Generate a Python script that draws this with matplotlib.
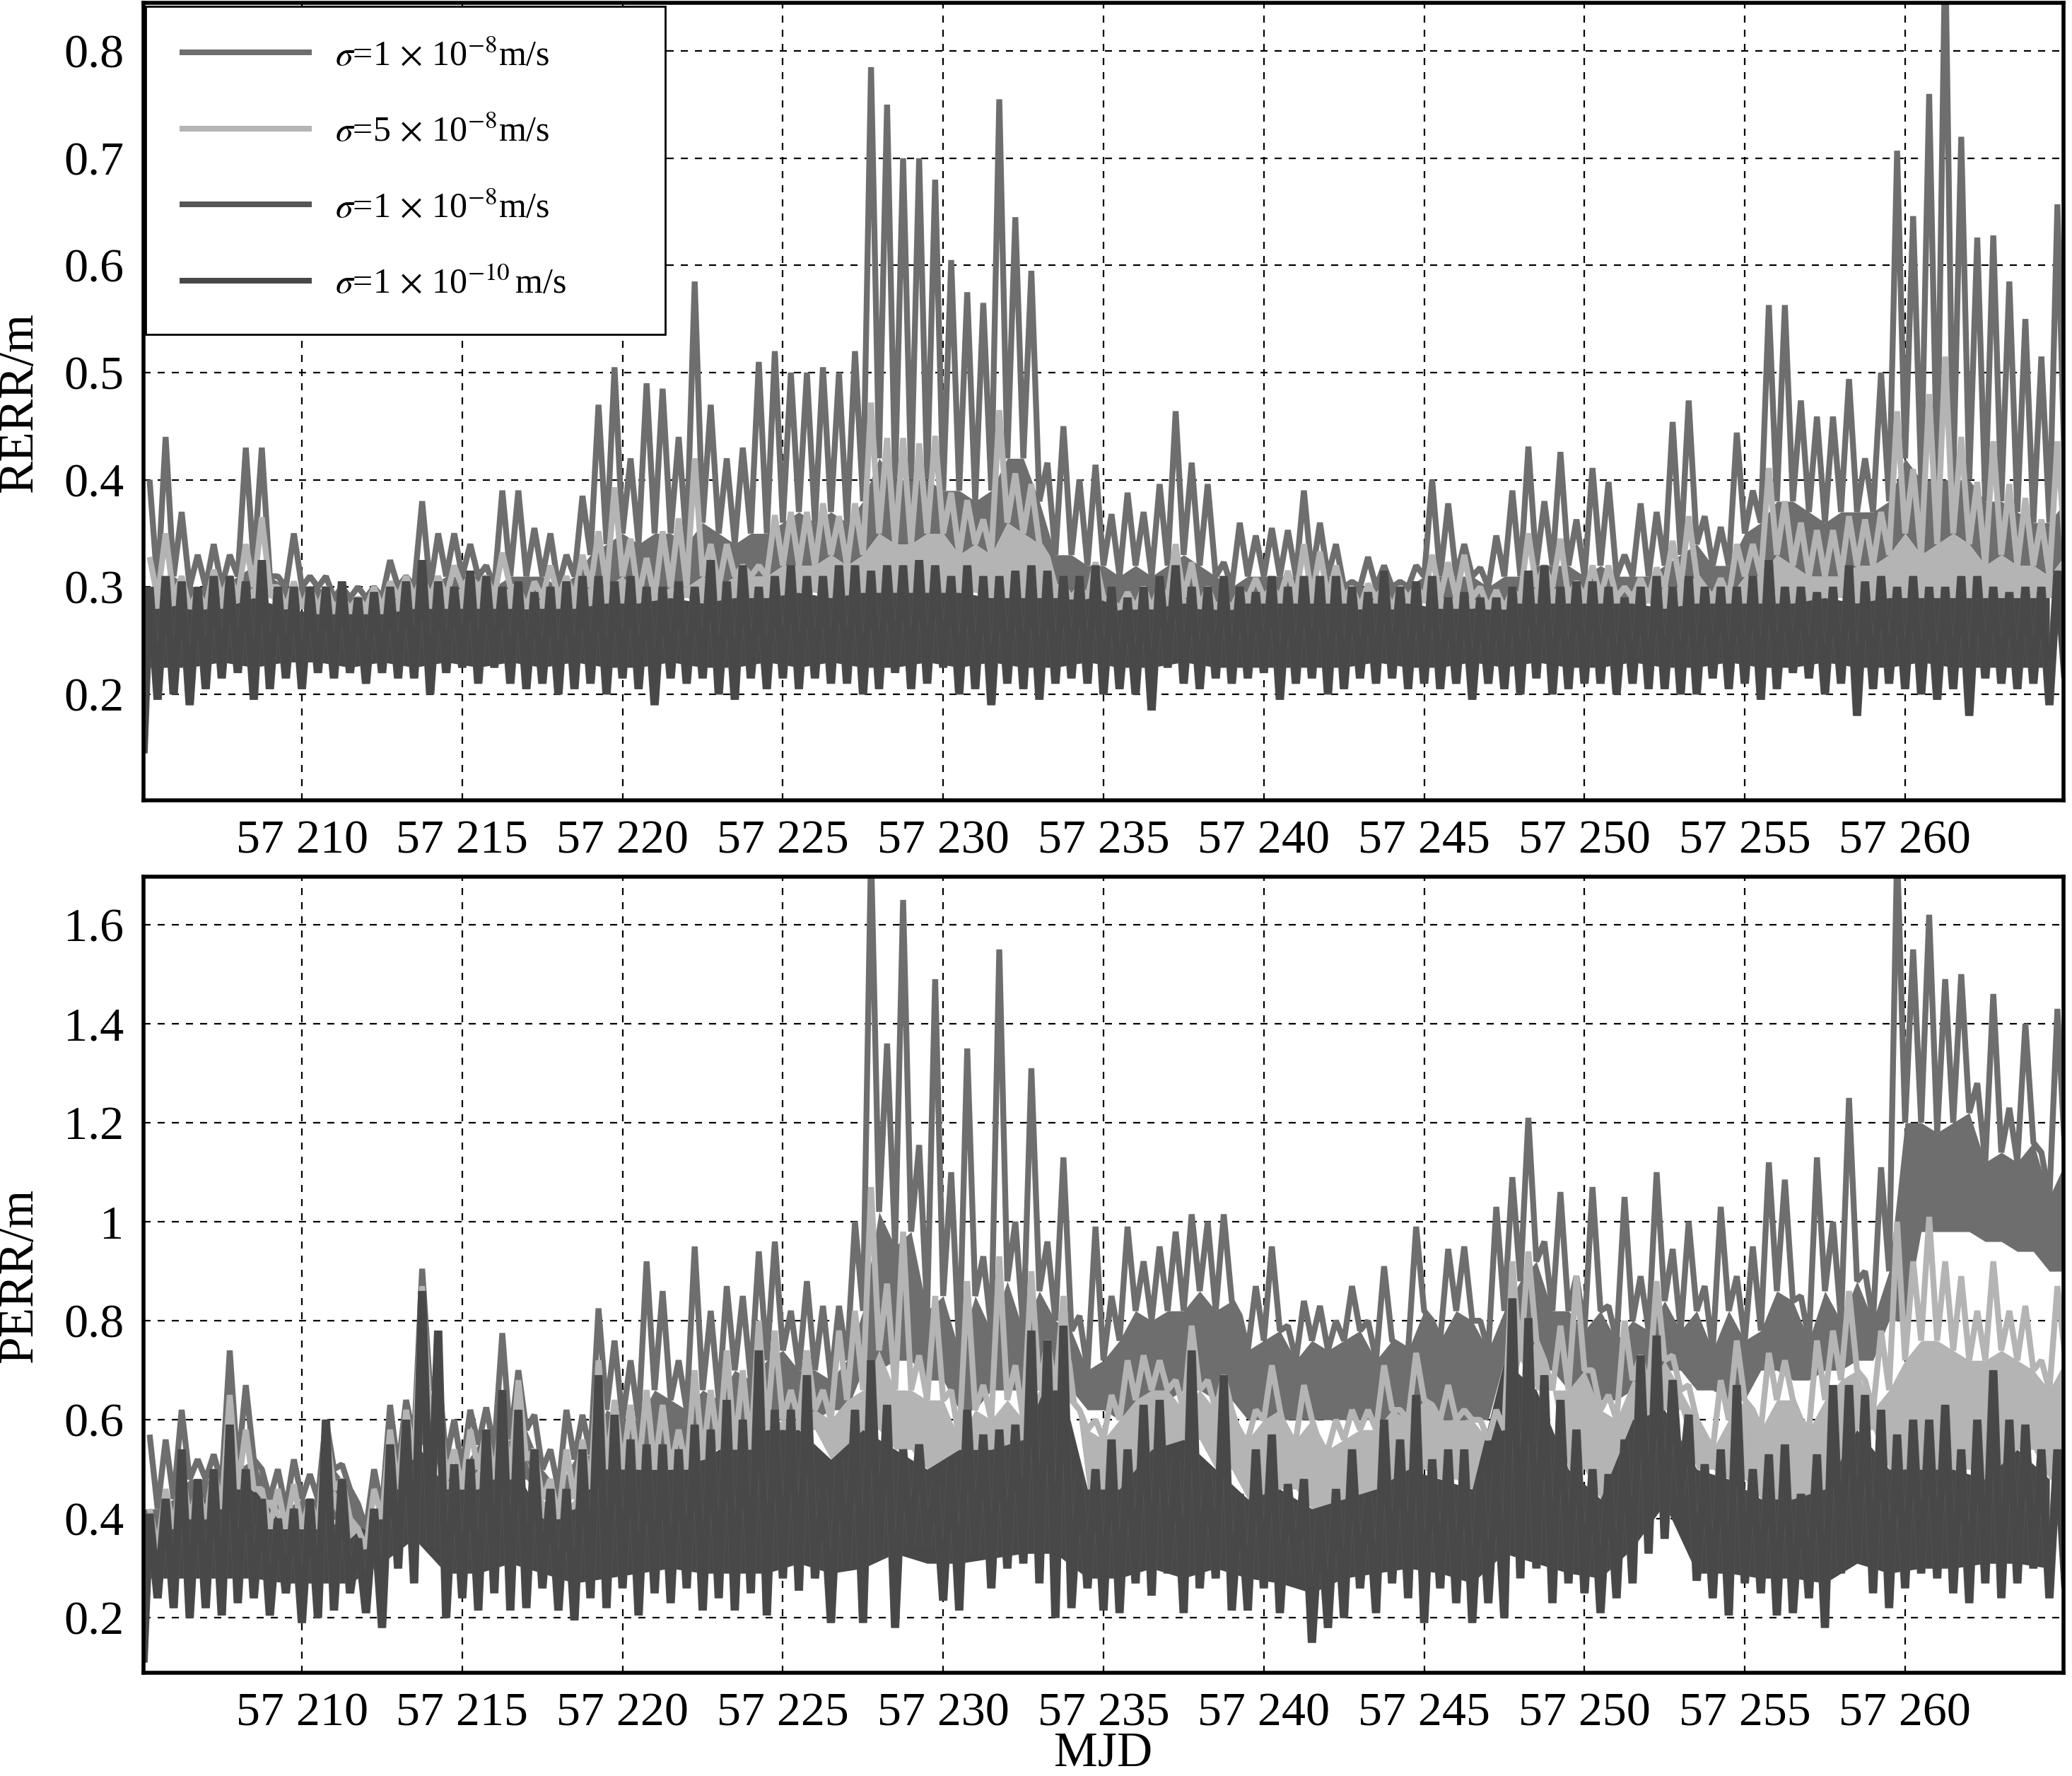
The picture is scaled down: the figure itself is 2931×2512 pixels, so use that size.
"""
RERR and PERR against MJD for four process noise settings.

Values are read off the picture: one upper spike and one valley for each half day.
"""
import numpy as np
from matplotlib import pyplot as plt

labels = [
    r"$\sigma$=1$\,\times\,$10$^{-8}$m/s",
    r"$\sigma$=5$\,\times\,$10$^{-8}$m/s",
    r"$\sigma$=1$\,\times\,$10$^{-8}$m/s",
    r"$\sigma$=1$\,\times\,$10$^{-10}\,$m/s",
]
colors = ["#6e6e6e", "#b4b4b4", "#565656", "#484848"]

mjd_ticks = [57210, 57215, 57220, 57225, 57230, 57235, 57240, 57245, 57250, 57255, 57260]
mjd_labels = ["57 210", "57 215", "57 220", "57 225", "57 230", "57 235",
              "57 240", "57 245", "57 250", "57 255", "57 260"]
rerr_ticks = [0.2, 0.3, 0.4, 0.5, 0.6, 0.7, 0.8]
rerr_labels = ["0.2", "0.3", "0.4", "0.5", "0.6", "0.7", "0.8"]
perr_ticks = [0.2, 0.4, 0.6, 0.8, 1.0, 1.2, 1.4, 1.6]
perr_labels = ["0.2", "0.4", "0.6", "0.8", "1", "1.2", "1.4", "1.6"]

# RERR, ten values a row = five days, from 57205
rerr_gray_peak = [
    .40, .44, .37, .33, .34, .33, .43, .43, .31, .35,
    .31, .31, .30, .30, .30, .325, .31, .38, .35, .35,
    .34, .32, .39, .39, .355, .35, .33, .385, .47, .505,
    .42, .49, .485, .44, .585, .47, .42, .43, .51, .52,
    .50, .50, .505, .50, .52, .785, .75, .70, .70, .68,
    .605, .575, .565, .755, .645, .595, .416, .45, .40, .414,
    .368, .388, .37, .396, .464, .416, .396, .323, .36, .348,
    .355, .353, .39, .36, .34, .305, .328, .32, .305, .32,
    .40, .378, .34, .318, .348, .39, .431, .38, .426, .363,
    .411, .398, .33, .378, .37, .454, .474, .366, .356, .444,
    .39, .563, .563, .474, .459, .459, .494, .42, .50, .707,
    .646, .76, .90, .72, .626, .628, .585, .55, .515, .657,
]
rerr_gray_valley = [
    .30, .31, .30, .30, .30, .31, .32, .31, .30, .30,
    .30, .29, .29, .29, .29, .30, .30, .30, .31, .31,
    .31, .30, .31, .31, .31, .30, .31, .33, .34, .35,
    .34, .35, .35, .34, .36, .35, .34, .35, .35, .36,
    .37, .36, .37, .36, .38, .42, .40, .40, .40, .39,
    .39, .38, .39, .42, .42, .38, .33, .33, .32, .32,
    .31, .32, .31, .32, .33, .32, .31, .30, .31, .31,
    .31, .31, .31, .31, .30, .30, .30, .30, .30, .31,
    .31, .31, .31, .30, .31, .31, .32, .32, .32, .31,
    .32, .31, .31, .31, .32, .33, .34, .32, .32, .35,
    .36, .38, .38, .37, .36, .37, .37, .37, .38, .42,
    .40, .40, .40, .40, .38, .38, .37, .36, .36, .38,
]
rerr_light_peak = [
    .328, .35, .31, .296, .316, .31, .34, .365, .30, .305,
    .30, .30, .29, .29, .30, .305, .31, .31, .31, .32,
    .31, .31, .332, .30, .305, .32, .31, .33, .352, .393,
    .345, .327, .352, .364, .42, .34, .34, .32, .32, .367,
    .37, .37, .378, .366, .378, .472, .439, .439, .434, .441,
    .388, .381, .363, .465, .406, .396, .328, .30, .30, .323,
    .287, .295, .30, .30, .34, .323, .30, .29, .297, .308,
    .30, .315, .34, .333, .32, .30, .303, .30, .30, .30,
    .33, .323, .33, .30, .297, .297, .35, .32, .345, .305,
    .32, .32, .30, .308, .318, .343, .366, .30, .308, .34,
    .34, .411, .38, .36, .353, .353, .366, .363, .37, .464,
    .41, .48, .515, .44, .398, .436, .396, .383, .363, .436,
]
rerr_light_valley = [
    .29, .29, .28, .28, .29, .29, .30, .30, .28, .28,
    .28, .28, .28, .28, .28, .29, .29, .29, .29, .30,
    .30, .29, .30, .28, .29, .29, .29, .30, .30, .31,
    .29, .29, .30, .30, .31, .30, .31, .31, .31, .32,
    .32, .32, .33, .32, .33, .35, .34, .34, .35, .35,
    .33, .34, .33, .36, .35, .34, .30, .29, .29, .29,
    .28, .28, .28, .29, .29, .28, .28, .28, .29, .29,
    .29, .29, .29, .29, .29, .28, .29, .28, .29, .29,
    .29, .29, .29, .28, .28, .29, .30, .30, .29, .29,
    .29, .29, .29, .29, .30, .30, .31, .29, .29, .31,
    .31, .33, .32, .31, .31, .31, .32, .32, .33, .35,
    .33, .34, .35, .34, .32, .33, .32, .32, .31, .33,
]
rerr_dark_up = [
    .30, .31, .305, .30, .31, .31, .305, .325, .30, .30,
    .30, .30, .305, .29, .295, .30, .305, .325, .305, .30,
    .315, .31, .30, .305, .295, .30, .305, .31, .31, .305,
    .31, .30, .30, .305, .30, .325, .305, .32, .30, .31,
    .32, .31, .31, .32, .32, .315, .32, .32, .325, .32,
    .31, .32, .31, .31, .315, .32, .315, .31, .31, .32,
    .30, .29, .30, .31, .32, .30, .30, .31, .30, .295,
    .31, .30, .31, .31, .31, .30, .295, .315, .30, .305,
    .31, .29, .295, .29, .29, .30, .315, .32, .30, .305,
    .305, .30, .29, .30, .31, .30, .31, .30, .30, .30,
    .31, .325, .30, .30, .295, .30, .32, .305, .31, .30,
    .31, .30, .30, .31, .31, .30, .295, .30, .30, .315,
]
rerr_dark_down = [
    .195, .20, .19, .205, .215, .22, .195, .205, .215, .205,
    .22, .215, .22, .21, .22, .215, .215, .20, .22, .225,
    .21, .225, .21, .205, .21, .20, .205, .21, .20, .215,
    .205, .19, .215, .21, .215, .20, .195, .215, .205, .215,
    .205, .215, .21, .21, .20, .205, .22, .205, .21, .225,
    .20, .205, .19, .21, .205, .195, .21, .215, .21, .20,
    .205, .20, .185, .225, .21, .205, .215, .21, .215, .22,
    .195, .21, .215, .20, .205, .215, .21, .215, .205, .21,
    .205, .21, .195, .21, .205, .20, .215, .20, .205, .21,
    .21, .20, .21, .205, .205, .20, .20, .215, .205, .21,
    .195, .205, .22, .215, .20, .21, .18, .205, .21, .205,
    .20, .195, .205, .18, .215, .21, .205, .21, .19, .215,
]
# solid part of the dark band, one value a day
rerr_core_top = [
    .28, .285, .28, .29, .28, .275, .275, .275, .28, .28,
    .28, .28, .28, .28, .285, .285, .29, .285, .29, .29,
    .295, .29, .295, .295, .295, .295, .29, .29, .29, .29,
    .285, .28, .285, .285, .285, .285, .285, .285, .285, .285,
    .28, .28, .285, .285, .285, .285, .285, .28, .285, .285,
    .285, .285, .29, .285, .29, .29, .29, .29, .29, .29,
]
rerr_core_bot = [
    .225, .225, .23, .225, .23, .23, .225, .23, .225, .23,
    .225, .23, .225, .23, .225, .225, .23, .225, .225, .23,
    .225, .23, .225, .225, .23, .225, .23, .225, .225, .23,
    .225, .225, .23, .225, .225, .225, .225, .225, .23, .225,
    .225, .23, .225, .23, .225, .225, .23, .225, .225, .23,
    .225, .225, .23, .225, .225, .23, .225, .225, .225, .225,
]

# PERR
perr_gray_peak = [
    .57, .56, .62, .52, .53, .74, .67, .50, .50, .52,
    .49, .60, .51, .43, .50, .63, .64, .905, .70, .60,
    .62, .625, .775, .70, .61, .54, .62, .61, .825, .76,
    .72, .92, .86, .72, .95, .82, .87, .85, .94, .96,
    .82, .88, .83, .83, 1.0, 1.75, 1.36, 1.65, 1.155, 1.49,
    1.1, 1.35, .93, 1.55, 1.0, 1.31, .96, 1.13, .81, .99,
    .85, .99, .92, .95, .98, 1.015, 1.0, 1.015, .81, .87,
    .95, .79, .84, .83, .80, .87, .80, .91, .75, .99,
    .80, .945, .95, .80, 1.03, 1.09, 1.21, .96, 1.06, .89,
    1.07, .83, 1.05, .89, 1.10, .945, 1.0, .87, 1.03, .89,
    .95, 1.12, 1.085, .85, 1.13, 1.0, 1.25, .90, 1.11, 1.75,
    1.55, 1.62, 1.49, 1.5, 1.28, 1.46, 1.23, 1.4, 1.14, 1.43,
]
perr_gray_valley = [
    .42, .44, .48, .48, .47, .50, .52, .44, .42, .44,
    .44, .50, .46, .38, .42, .50, .56, .66, .52, .50,
    .55, .54, .56, .58, .50, .46, .52, .53, .62, .60,
    .60, .66, .64, .62, .66, .64, .70, .68, .72, .74,
    .70, .70, .68, .72, .82, 1.02, .95, .98, .82, .85,
    .74, .85, .78, .88, .78, .86, .80, .78, .70, .72,
    .76, .82, .80, .82, .82, .86, .82, .84, .74, .76,
    .78, .72, .76, .74, .76, .78, .72, .76, .74, .82,
    .76, .82, .80, .74, .82, .88, .92, .82, .82, .78,
    .82, .76, .80, .78, .84, .78, .82, .74, .82, .76,
    .78, .86, .84, .76, .86, .80, .88, .80, .90, 1.20,
    1.20, 1.18, 1.20, 1.22, 1.12, 1.14, 1.12, 1.16, 1.05, 1.12,
]
# lower edge of the gray band, one value a day
perr_gray_floor = [
    .36, .42, .44, .44, .40, .40, .36, .38, .55, .46,
    .50, .48, .44, .46, .52, .52, .54, .56, .60, .62,
    .60, .62, .70, .72, .68, .62, .66, .66, .66, .62,
    .60, .64, .66, .64, .60, .60, .60, .60, .60, .60,
    .60, .60, .72, .70, .66, .64, .66, .70, .66, .64,
    .70, .68, .70, .72, .80, .98, .98, .96, .94, .90,
]
perr_light_peak = [
    .42, .46, .50, .46, .50, .65, .58, .46, .46, .47,
    .44, .58, .48, .38, .46, .58, .62, .87, .66, .54,
    .58, .58, .62, .68, .54, .48, .54, .56, .72, .64,
    .63, .66, .63, .58, .70, .66, .74, .70, .80, .78,
    .66, .74, .66, .78, .82, 1.07, .875, .98, .73, .85,
    .66, .88, .67, .93, .71, .90, .76, .85, .62, .60,
    .65, .72, .73, .72, .68, .79, .68, .69, .57, .62,
    .71, .55, .67, .55, .60, .62, .62, .71, .62, .735,
    .63, .67, .62, .60, .62, .92, .94, .72, .79, .89,
    .70, .65, .80, .73, .88, .73, .67, .57, .68, .76,
    .62, .735, .72, .60, .76, .78, .86, .68, .78, 1.0,
    .92, 1.01, .92, .89, .82, .92, .82, .83, .72, .87,
]
perr_light_valley = [
    .34, .38, .40, .40, .42, .46, .46, .38, .38, .38,
    .38, .46, .40, .34, .40, .46, .52, .60, .48, .46,
    .50, .48, .48, .52, .44, .40, .44, .46, .50, .50,
    .50, .50, .50, .50, .52, .54, .54, .54, .58, .60,
    .60, .62, .60, .64, .66, .74, .66, .66, .64, .64,
    .56, .62, .60, .64, .60, .66, .66, .64, .58, .56,
    .60, .64, .66, .66, .62, .66, .62, .62, .56, .60,
    .62, .56, .60, .54, .56, .58, .58, .62, .60, .64,
    .60, .60, .60, .56, .58, .72, .76, .66, .66, .70,
    .62, .60, .68, .66, .72, .66, .60, .54, .60, .64,
    .58, .64, .64, .58, .64, .68, .70, .62, .66, .72,
    .76, .76, .74, .72, .72, .74, .72, .70, .66, .72,
]
perr_dark_up = [
    .41, .44, .54, .48, .50, .59, .50, .44, .40, .42,
    .44, .60, .48, .36, .42, .55, .60, .86, .78, .51,
    .52, .58, .66, .62, .54, .46, .46, .54, .69, .61,
    .56, .55, .55, .54, .59, .58, .64, .60, .74, .62,
    .62, .69, .46, .52, .62, .72, .63, .54, .55, .47,
    .52, .62, .57, .58, .59, .78, .76, .79, .49, .50,
    .56, .54, .63, .64, .52, .74, .50, .69, .45, .54,
    .57, .47, .48, .41, .46, .54, .45, .60, .56, .65,
    .52, .54, .54, .49, .50, .845, .805, .69, .64, .58,
    .50, .49, .56, .73, .77, .68, .61, .51, .54, .67,
    .50, .53, .55, .45, .53, .67, .67, .65, .62, .57,
    .60, .60, .63, .54, .60, .70, .60, .59, .54, .54,
]
perr_dark_down = [
    .24, .22, .20, .22, .205, .23, .24, .205, .25, .19,
    .20, .215, .25, .21, .18, .30, .27, .345, .20, .24,
    .215, .25, .215, .22, .26, .215, .195, .24, .22, .26,
    .205, .25, .23, .26, .215, .24, .215, .25, .205, .28,
    .255, .28, .19, .30, .19, .32, .18, .345, .345, .235,
    .215, .33, .26, .30, .31, .27, .20, .22, .26, .215,
    .21, .27, .245, .29, .21, .26, .28, .215, .215, .26,
    .21, .29, .15, .18, .20, .26, .21, .27, .24, .19,
    .26, .23, .19, .23, .20, .28, .30, .23, .27, .25,
    .21, .24, .27, .33, .36, .45, .275, .24, .205, .27,
    .25, .205, .21, .24, .18, .29, .31, .25, .22, .26,
    .29, .28, .25, .23, .27, .24, .27, .30, .24, .26,
]
perr_core_top = [
    .38, .42, .46, .46, .38, .42, .36, .42, .56, .46,
    .46, .52, .40, .42, .52, .50, .50, .52, .56, .58,
    .58, .52, .58, .54, .50, .54, .54, .56, .72, .46,
    .46, .54, .56, .50, .44, .46, .42, .44, .46, .50,
    .48, .46, .72, .66, .50, .44, .60, .62, .50, .48,
    .44, .44, .46, .58, .50, .50, .50, .48, .54, .48,
]
perr_core_bot = [
    .28, .28, .28, .28, .27, .27, .27, .31, .36, .29,
    .29, .31, .29, .27, .28, .29, .30, .29, .29, .29,
    .31, .29, .30, .33, .31, .31, .32, .33, .33, .28,
    .28, .30, .28, .30, .28, .27, .25, .28, .29, .30,
    .29, .27, .33, .31, .29, .28, .34, .43, .29, .29,
    .28, .28, .27, .31, .29, .30, .30, .31, .31, .30,
]
# first sample at the left edge of each panel
rerr_start = 0.145
perr_start = 0.11

MJD_LEFT = 57205.06
MJD_START = 57205.25
LINE_LW = 6.0
DARK_LW = 7.5


def zigzag(first, second):
    # one half day: first value on the quarter, second a quarter day later
    x = MJD_START + 0.25 * np.arange(2 * len(first))
    y = np.column_stack([first, second]).ravel()
    return x, y


def body(ax, x, low, high, color):
    # extend to the left edge so the band has no gap at the axis
    x = np.concatenate([[57205.0], x])
    low = np.concatenate([[low[0]], low])
    high = np.concatenate([[high[0]], high])
    ax.fill_between(x, low, high, color=color, lw=0)


def draw_panel(ax, gray, light, dark, core, gray_floor, start):
    valley_x = MJD_START + 0.25 + 0.5 * np.arange(len(gray[0]))
    core_x = np.arange(len(core[0])) + 57205.5
    core_top = np.repeat(core[0], 2)
    line_style = {"solid_joinstyle": "bevel", "solid_capstyle": "butt"}

    body(ax, valley_x, gray_floor, gray[1], colors[0])
    ax.plot(*zigzag(*gray), color=colors[0], lw=LINE_LW, label=labels[0], **line_style)

    body(ax, valley_x, core_top, light[1], colors[1])
    ax.plot(*zigzag(*light), color=colors[1], lw=LINE_LW, label=labels[1], **line_style)

    x, y = zigzag(*dark)
    x = np.concatenate([[MJD_LEFT], x])
    y = np.concatenate([[start], y])
    # third series nearly coincides with the last one, only its rim shows
    ax.plot(x, y, color=colors[2], lw=DARK_LW + 1, label=labels[2], **line_style)
    body(ax, core_x, core[1], core[0], colors[3])
    ax.plot(x, y, color=colors[3], lw=DARK_LW, label=labels[3], **line_style)


def style_axes(ax, yticks, ylabels, ylim, ylabel):
    ax.set_xlim(MJD_LEFT, 57264.94)
    ax.set_ylim(*ylim)
    ax.set_xticks(mjd_ticks, mjd_labels)
    ax.set_yticks(yticks, ylabels)
    ax.tick_params(length=0, labelsize=49, pad=20)
    ax.set_axisbelow(True)
    ax.grid(True, color="black", lw=1.6, linestyle=(0, (4.5, 4.5)))
    for spine in ax.spines.values():
        spine.set_linewidth(4)
    ax.set_ylabel(ylabel, fontsize=50)
    ax.yaxis.set_label_coords(-0.0525, 0.5)


def main():
    plt.rcParams["font.family"] = ["Liberation Serif", "DejaVu Serif"]
    plt.rcParams["mathtext.fontset"] = "stix"

    W, H = 2931, 2512
    fig = plt.figure(figsize=(W / 100, H / 100), dpi=100)
    ax1 = fig.add_axes([203 / W, 1 - 1132 / H, 2716 / W, 1128 / H])
    ax2 = fig.add_axes([203 / W, 1 - 2366 / H, 2716 / W, 1126 / H])

    draw_panel(
        ax1,
        (rerr_gray_peak, rerr_gray_valley),
        (rerr_light_peak, rerr_light_valley),
        (rerr_dark_up, rerr_dark_down),
        (rerr_core_top, rerr_core_bot),
        np.array(rerr_light_valley),
        rerr_start,
    )
    draw_panel(
        ax2,
        (perr_gray_peak, perr_gray_valley),
        (perr_light_peak, perr_light_valley),
        (perr_dark_up, perr_dark_down),
        (perr_core_top, perr_core_bot),
        np.repeat(perr_gray_floor, 2),
        perr_start,
    )
    style_axes(ax1, rerr_ticks, rerr_labels, (0.101, 0.845), "RERR/m")
    style_axes(ax2, perr_ticks, perr_labels, (0.089, 1.697), "PERR/m")
    ax2.set_xlabel("MJD", fontsize=50, labelpad=-4)

    legend = ax1.legend(
        loc="upper left",
        bbox_to_anchor=(0.0012, 0.996, 735 / 2716, 0), mode="expand",
        borderaxespad=0, fontsize=36, fancybox=False, framealpha=1, edgecolor="black",
        handlelength=3.74, handletextpad=0.67, labelspacing=1.22, borderpad=0.95,
    )
    legend.get_frame().set_linewidth(2)
    for line in legend.get_lines():
        line.set_linewidth(5.8)

    fig.savefig("out.png", dpi=100)


if __name__ == "__main__":
    main()
